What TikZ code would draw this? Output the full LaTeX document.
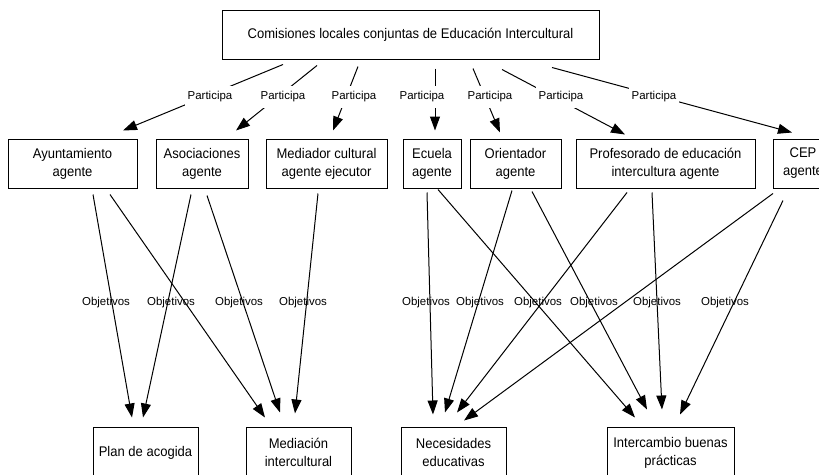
\documentclass[tikz,border=0pt]{standalone}
\usepackage{fontspec}
\setmainfont{Liberation Sans}[FakeStretch=0.93]
\newfontfamily\labelfont{Liberation Sans}
\usetikzlibrary{arrows.meta,calc}
\tikzset{
  box/.style={draw, line width=0.75pt, inner sep=0pt, align=center,
    minimum height=36.75pt, font=\fontsize{10.5}{13.5}\selectfont},
  goal/.style={box, minimum height=38.25pt},
  arr/.style={line width=0.75pt, -{Triangle[length=10.5pt,width=7.5pt]}},
  part/.style={fill=white, inner xsep=2pt, inner ysep=4pt,
    font=\labelfont\fontsize{8.6}{10}\selectfont},
  obj/.style={inner sep=0pt, font=\labelfont\fontsize{8.6}{10}\selectfont}
}
\begin{document}
\begin{tikzpicture}[x=0.75pt,y=-0.75pt]
\clip (0,0) rectangle (819,475);
\fill[white] (0,0) rectangle (819,475);

% commission
\node[box, minimum width=282.75pt] (top) at (410.5,34.5)
  {Comisiones locales conjuntas de Educación Intercultural};

% agents
\node[box, minimum width=96.75pt]  (ayu)  at (72.5,163.5)  {Ayuntamiento\\agente};
\node[box, minimum width=69pt]     (aso)  at (202,163.5)   {Asociaciones\\agente};
\node[box, minimum width=90.75pt]  (med)  at (326.5,163.5) {Mediador cultural\\agente ejecutor};
\node[box, minimum width=43.5pt]   (ecu)  at (432,163.5)   {Ecuela\\agente};
\node[box, minimum width=68.25pt]  (ori)  at (515.5,163.5) {Orientador\\agente};
\node[box, minimum width=134.25pt] (prof) at (665.5,163.5) {Profesorado de educación\\intercultura agente};
\node[box, minimum width=45pt]     (cep)  at (803,163.5)   {CEP\\agente};

% goals
\node[goal, minimum width=78.75pt] (plan)  at (145.5,452.5) {Plan de acogida};
\node[goal, minimum width=78.75pt] (medi)  at (298.5,452.5) {Mediación\\intercultural};
\node[goal, minimum width=78.75pt] (nec)   at (453.5,452.5) {Necesidades\\educativas};
\node[goal, minimum width=95.25pt] (inter) at (670.5,452.5) {Intercambio buenas\\prácticas};

% commission -> agents
\draw[arr] ($(top.south)+(-127.5,5)$) -- ($(ayu.north)+(50.5,-8)$);
\draw[arr] ($(top.south)+(-93.5,6)$)  -- ($(aso.north)+(34,-8)$);
\draw[arr] ($(top.south)+(-52.5,7)$)  -- ($(med.north)+(6.5,-8)$);
\draw[arr] ($(top.south)+(24.5,9)$)   -- ($(ecu.north)+(3,-8)$);
\draw[arr] ($(top.south)+(62.5,9)$)   -- ($(ori.north)+(-15.5,-6)$);
\draw[arr] ($(top.south)+(91.5,10)$)  -- ($(prof.north)+(-40.5,-4)$);
\draw[arr] ($(top.south)+(141.5,8)$)  -- ($(cep.north)+(-11,-6)$);

% agents -> goals
\draw[arr] ($(ayu.south)+(20.5,6)$)   -- ($(plan.north)+(-13.5,-9)$);
\draw[arr] ($(ayu.south)+(37.5,6)$)   -- ($(medi.north)+(-33.5,-9)$);
\draw[arr] ($(aso.south)+(-11,6)$)    -- ($(plan.north)+(-2.5,-9)$);
\draw[arr] ($(aso.south)+(5,7)$)      -- ($(medi.north)+(-18.5,-14)$);
\draw[arr] ($(med.south)+(-8.5,5)$)   -- ($(medi.north)+(-3.5,-13)$);
\draw[arr] ($(ecu.south)+(-5,4)$)     -- ($(nec.north)+(-20.5,-12)$);
\draw[arr] ($(ecu.south)+(6,1)$)      -- ($(inter.north)+(-35.5,-9)$);
\draw[arr] ($(ori.south)+(-3.5,2)$)   -- ($(nec.north)+(-8.5,-14)$);
\draw[arr] ($(ori.south)+(16.5,3)$)   -- ($(inter.north)+(-23.5,-17)$);
\draw[arr] ($(prof.south)+(-38.5,4)$) -- ($(nec.north)+(3.5,-14)$);
\draw[arr] ($(prof.south)+(-13.5,4)$) -- ($(inter.north)+(-8.5,-17)$);
\draw[arr] ($(cep.south)+(-30,5)$)    -- ($(nec.north)+(10.5,-6)$);
\draw[arr] ($(cep.south)+(-20,12)$)   -- ($(inter.north)+(9.5,-12)$);

% edge labels
\node[part] (p1) at (210,97) {Participa};
\node[part] (p2) at (283,97) {Participa};
\node[part] (p3) at (354,97) {Participa};
\node[part] (p4) at (422,97) {Participa};
\node[part] (p5) at (490,97) {Participa};
\node[part] (p6) at (561,97) {Participa};
\node[part] (p7) at (654,97) {Participa};

\node[obj] (o1)  at (106,303) {Objetivos};
\node[obj] (o2)  at (171,303) {Objetivos};
\node[obj] (o3)  at (239,303) {Objetivos};
\node[obj] (o4)  at (303,303) {Objetivos};
\node[obj] (o5)  at (426,303) {Objetivos};
\node[obj] (o6)  at (480,303) {Objetivos};
\node[obj] (o7)  at (538,303) {Objetivos};
\node[obj] (o8)  at (594,303) {Objetivos};
\node[obj] (o9)  at (657,303) {Objetivos};
\node[obj] (o10) at (725,303) {Objetivos};
\end{tikzpicture}
\end{document}
